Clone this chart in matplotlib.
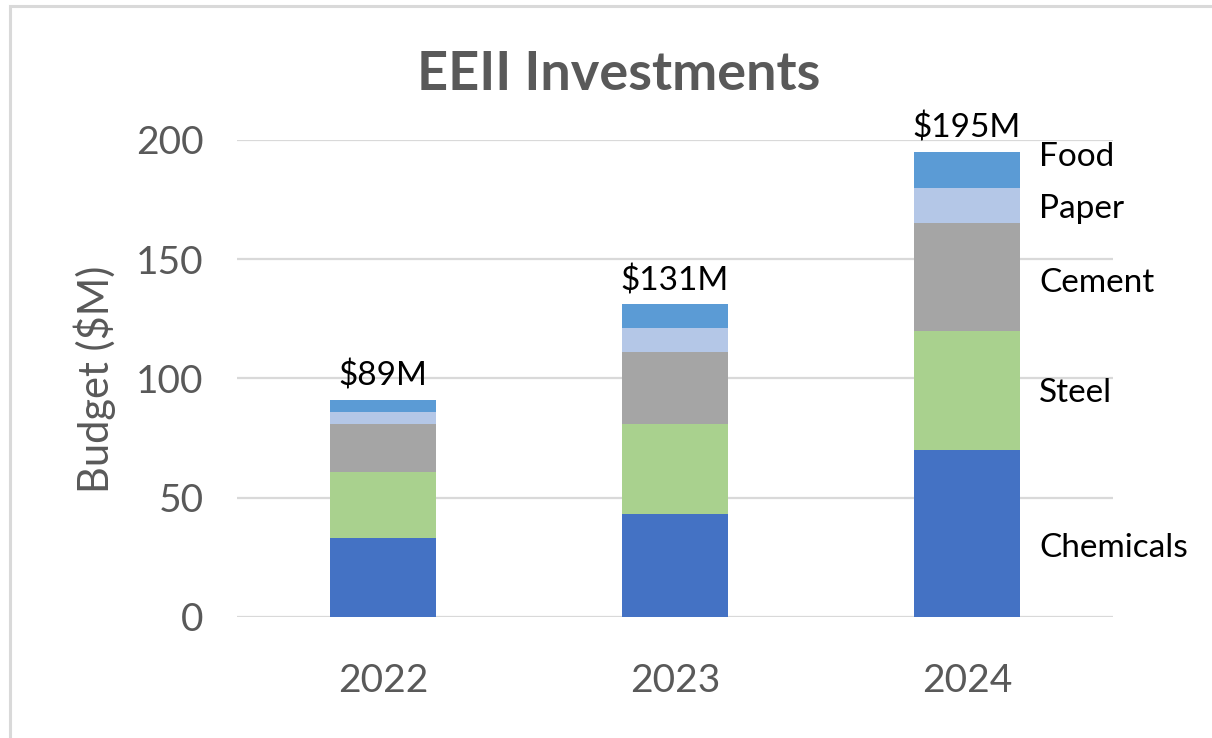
import matplotlib
matplotlib.use("Agg")
import matplotlib.pyplot as plt
from matplotlib.patches import Rectangle
import numpy as np

years = ["2022", "2023", "2024"]
sectors = ["Chemicals", "Steel", "Cement", "Paper", "Food"]
chemicals = [33, 43, 70]
steel = [27.5, 38, 50]
cement = [20.5, 30, 45]
paper = [5, 10, 15]
food = [5, 10, 15]
totals_text = ["$89M", "$131M", "$195M"]
sector_label_y = [29, 94, 140, 171, 193]  # label positions beside 2024 bar (data units)
colors = ["#4472C4", "#A9D18E", "#A5A5A5", "#B4C7E7", "#5B9BD5"]

plt.rcParams['font.family'] = ['Lato', 'DejaVu Sans']

fig = plt.figure(figsize=(12.12, 7.38), dpi=100)
ax = fig.add_axes([237/1212, 1-616.7/738, (1113-237)/1212, (616.7-140)/738])

x = np.arange(len(years))
series = [chemicals, steel, cement, paper, food]
bottom = np.zeros(len(years))
for vals, c in zip(series, colors):
    ax.bar(x, vals, bottom=bottom, width=0.363, color=c, zorder=3, linewidth=0)
    bottom += np.array(vals)

for xi, tot, txt in zip(x, bottom, totals_text):
    ax.text(xi, tot + 3.5, txt, ha='center', va='bottom', fontsize=24, color='black', clip_on=False)

for name, yv in zip(sectors, sector_label_y):
    ax.text(2 + 0.363/2 + 0.065, yv, name, ha='left', va='center', fontsize=24, color='black', clip_on=False)

ax.set_xlim(-0.5, 2.5)
ax.set_ylim(0, 200)
ax.set_yticks([0, 50, 100, 150, 200])
ax.set_xticks(x)
ax.set_xticklabels(years)
ax.grid(axis='y', color='#d9d9d9', linewidth=1.6, zorder=0)
ax.set_axisbelow(True)
for s in ax.spines.values():
    s.set_visible(False)
ax.tick_params(axis='both', length=0, labelsize=28, colors='#595959')
ax.tick_params(axis='y', pad=24)
ax.tick_params(axis='x', pad=33)
ax.set_ylabel("Budget ($M)", fontsize=30, color='#595959')
ax.yaxis.set_label_coords((95-237)/(1113-237), (616.7-379)/(616.7-140))
ax.yaxis.label.set_va('center')

fig.text(619/1212, 1-90/738, "EEII Investments", ha='center', va='baseline',
         fontsize=39, fontweight='bold', color='#595959')

fig.patches.append(Rectangle((10/1212, -0.1), 1.2, 1.1 - 6/738, transform=fig.transFigure,
                             fill=False, edgecolor='#d9d9d9', linewidth=2.2, clip_on=False))

fig.savefig("out.png", dpi=100, facecolor='white')
